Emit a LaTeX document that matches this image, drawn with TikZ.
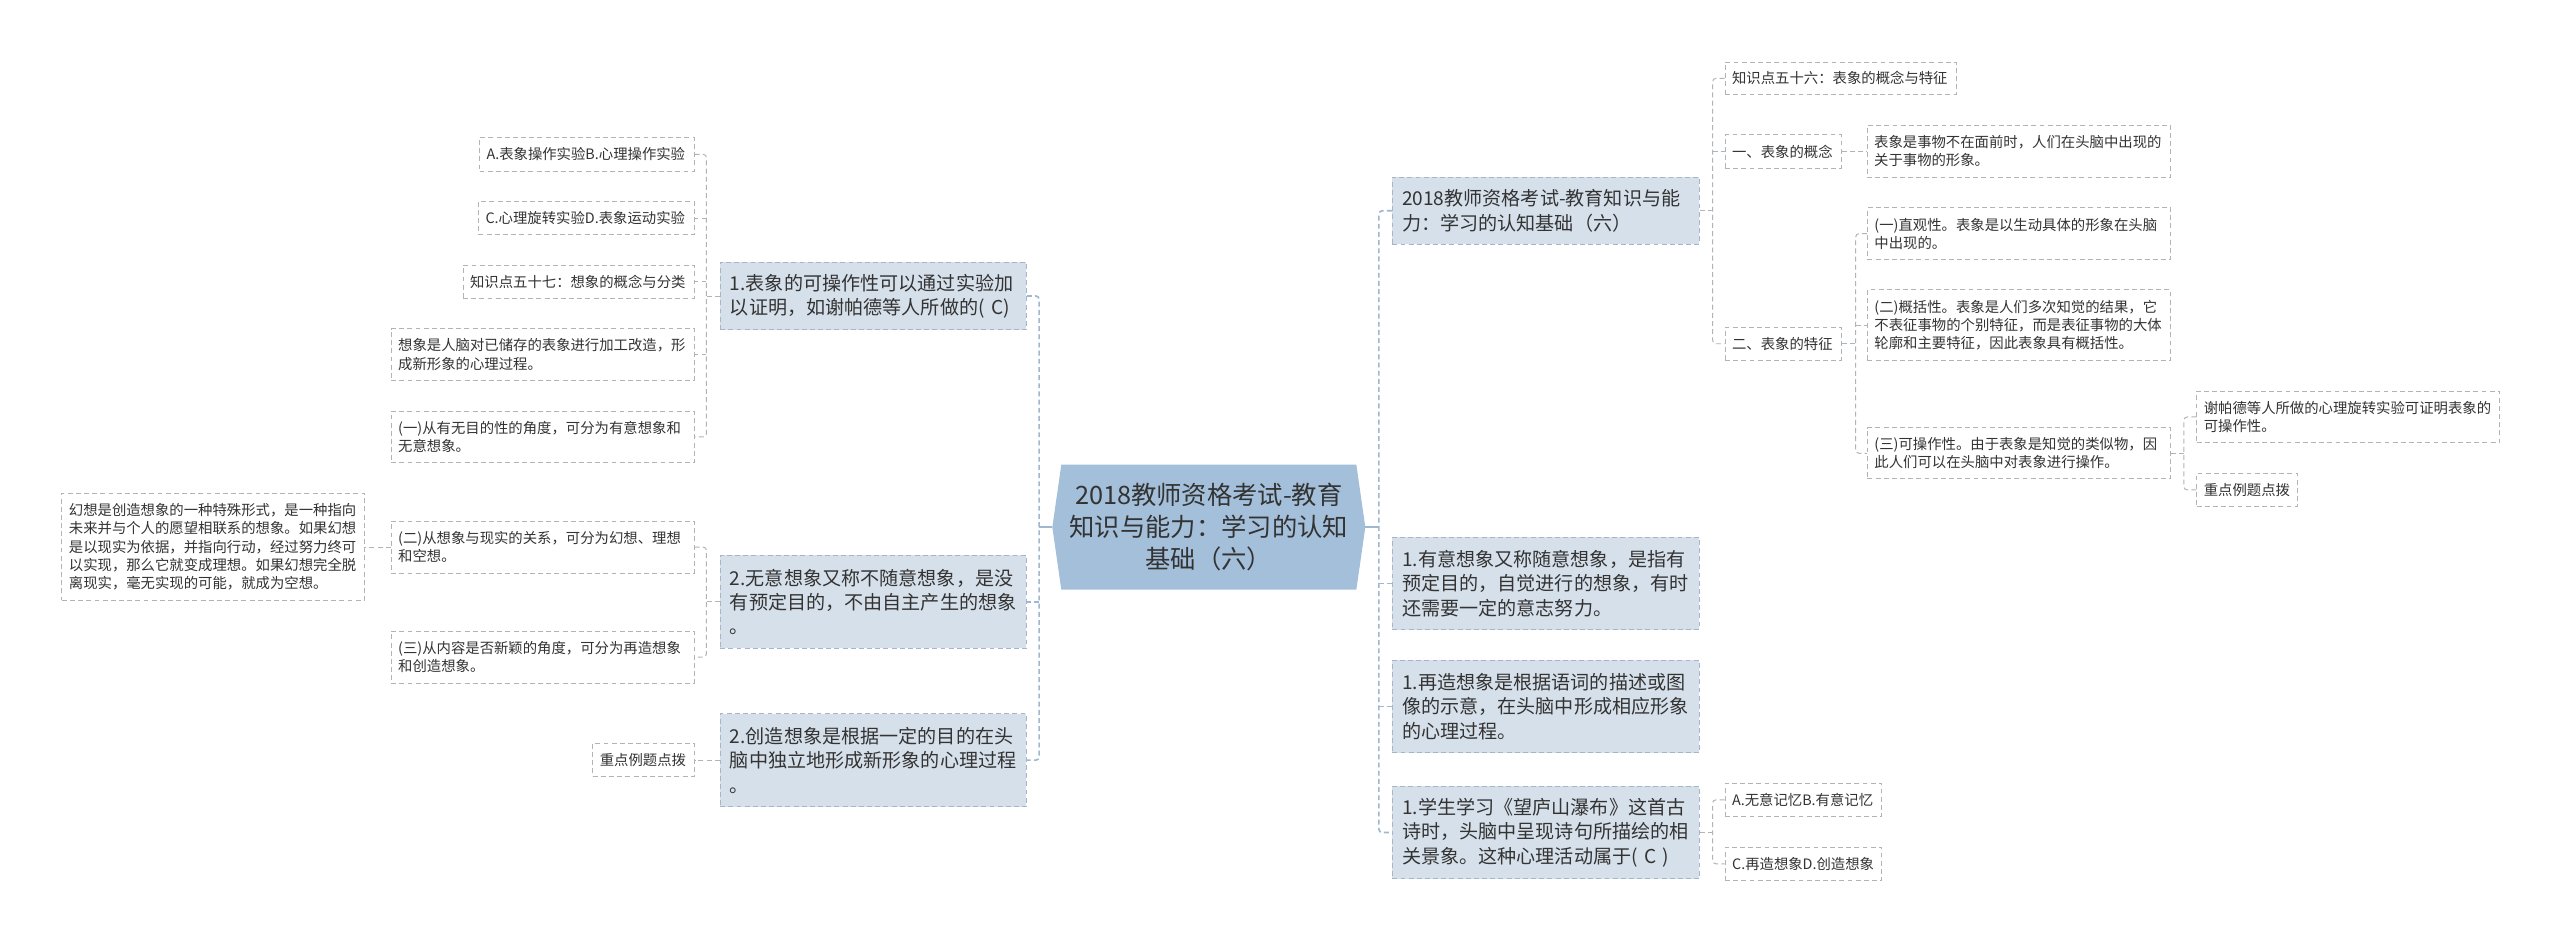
\documentclass[tikz,border=0pt]{standalone}
\usepackage{fontspec}
\setmainfont{Noto Sans CJK SC}
\usetikzlibrary{backgrounds,calc}
\definecolor{cfill}{HTML}{A3BFDA}
\definecolor{lvlf}{HTML}{D6E0EA}
\definecolor{lvlb}{HTML}{A6B6C6}
\definecolor{leafb}{HTML}{AEB4BA}
\definecolor{mainc}{HTML}{9FB8D0}
\definecolor{treecol}{HTML}{B0B4B8}
\definecolor{txt}{HTML}{333333}
\begin{document}
\begin{tikzpicture}[x=1pt,y=-1pt,
  box/.style={rectangle, anchor=north west, inner ysep=0pt, align=left, text=txt},
  leaf/.style={box, inner xsep=4.3pt, draw=leafb, fill=white, dash pattern=on 3pt off 2pt, line width=0.6pt, font=\fontsize{8.8}{11.2}\selectfont},
  lvl/.style={box, inner xsep=6pt, draw=lvlb, fill=lvlf, dash pattern=on 3pt off 2pt, line width=0.6pt, font=\fontsize{11.7}{14.9}\selectfont},
  hub/.style={rectangle, inner sep=0pt, align=center, text=txt, font=\fontsize{15.5}{19.6}\selectfont},
  maind/.style={draw=mainc, line width=1pt, dash pattern=on 3pt off 2pt, rounded corners=2pt},
  mains/.style={draw=mainc, line width=1.2pt},
  treec/.style={draw=treecol, line width=0.6pt, dash pattern=on 3pt off 2pt, rounded corners=2pt}
]
\useasboundingbox (0,0) rectangle (1568,577);

% centre
\node[hub, minimum width=191.3pt, minimum height=76.2pt] (C) at (740.4,322.9)
  {2018教师资格考试-教育\\知识与能力：学习的认知\\基础（六）};
\begin{pgfonlayer}{background}
\fill[white] (0,0) rectangle (1568,577);
\fill[cfill] (C.west) -- ($(C.north west)+(5.5,0)$) -- ($(C.north east)+(-5.5,0)$) -- (C.east)
  -- ($(C.south east)+(-5.5,0)$) -- ($(C.south west)+(5.5,0)$) -- cycle;
\end{pgfonlayer}

% left level-1
\node[lvl, text width=175.6pt, minimum height=41.4pt] (L1) at (440.8,160.3)
  {1.表象的可操作性可以通过实验加\\以证明，如谢帕德等人所做的(~C)};
\node[lvl, text width=175.6pt, minimum height=56.9pt] (L2) at (440.8,339.9)
  {2.无意想象又称不随意想象，是没\\有预定目的，不由自主产生的想象\\。};
\node[lvl, text width=175.6pt, minimum height=56.8pt] (L3) at (440.8,436.9)
  {2.创造想象是根据一定的目的在头\\脑中独立地形成新形象的心理过程\\。};

% right level-1
\node[lvl, text width=176pt, minimum height=41.2pt] (R1) at (852.5,108.2)
  {2018教师资格考试-教育知识与能\\力：学习的认知基础（六）};
\node[lvl, text width=176pt, minimum height=56.7pt] (R2) at (852.5,328.7)
  {1.有意想象又称随意想象，是指有\\预定目的，自觉进行的想象，有时\\还需要一定的意志努力。};
\node[lvl, text width=176pt, minimum height=56.6pt] (R3) at (852.5,404.2)
  {1.再造想象是根据语词的描述或图\\像的示意，在头脑中形成相应形象\\的心理过程。};
\node[lvl, text width=176pt, minimum height=56.8pt] (R4) at (852.5,481.2)
  {1.学生学习《望庐山瀑布》这首古\\诗时，头脑中呈现诗句所描绘的相\\关景象。这种心理活动属于(~C~)};

% left leaves
\node[leaf, text width=122.9pt, minimum height=20.5pt] (a1) at (293.4,84) {A.表象操作实验B.心理操作实验};
\node[leaf, text width=123.5pt, minimum height=20.5pt] (a2) at (292.8,123) {C.心理旋转实验D.表象运动实验};
\node[leaf, text width=133pt, minimum height=20pt] (a3) at (283.3,162.3) {知识点五十七：想象的概念与分类};
\node[leaf, text width=177pt, minimum height=31.7pt] (a4) at (239.3,201)
  {想象是人脑对已储存的表象进行加工改造，形\\成新形象的心理过程。};
\node[leaf, text width=177pt, minimum height=31.7pt] (a5) at (239.3,251.5)
  {(一)从有无目的性的角度，可分为有意想象和\\无意想象。};
\node[leaf, text width=177pt, minimum height=31.8pt] (b1) at (239.3,318.9)
  {(二)从想象与现实的关系，可分为幻想、理想\\和空想。};
\node[leaf, text width=177pt, minimum height=31.8pt] (b2) at (239.3,386.3)
  {(三)从内容是否新颖的角度，可分为再造想象\\和创造想象。};
\node[leaf, text width=176.8pt, minimum height=65.8pt] (b1a) at (37.6,301.7)
  {幻想是创造想象的一种特殊形式，是一种指向\\未来并与个人的愿望相联系的想象。如果幻想\\是以现实为依据，并指向行动，经过努力终可\\以实现，那么它就变成理想。如果幻想完全脱\\离现实，毫无实现的可能，就成为空想。};
\node[leaf, text width=53.5pt, minimum height=20.4pt] (c1) at (362.8,454.9) {重点例题点拨};

% right leaves
\node[leaf, text width=133.1pt, minimum height=19.8pt] (r1a) at (1056.3,37.8) {知识点五十六：表象的概念与特征};
\node[leaf, text width=62.5pt, minimum height=20.4pt] (r1b) at (1056.3,82.3) {一、表象的概念};
\node[leaf, text width=177.4pt, minimum height=31.6pt] (r1b1) at (1143.3,76.6)
  {表象是事物不在面前时，人们在头脑中出现的\\关于事物的形象。};
\node[leaf, text width=62.5pt, minimum height=20.5pt] (r1c) at (1056.3,200) {二、表象的特征};
\node[leaf, text width=177.2pt, minimum height=31.7pt] (r1c1) at (1143.5,127)
  {(一)直观性。表象是以生动具体的形象在头脑\\中出现的。};
\node[leaf, text width=177.2pt, minimum height=43.3pt] (r1c2) at (1143.5,177.2)
  {(二)概括性。表象是人们多次知觉的结果，它\\不表征事物的个别特征，而是表征事物的大体\\轮廓和主要特征，因此表象具有概括性。};
\node[leaf, text width=177.2pt, minimum height=31.3pt] (r1c3) at (1143.5,261.7)
  {(三)可操作性。由于表象是知觉的类似物，因\\此人们可以在头脑中对表象进行操作。};
\node[leaf, text width=176.8pt, minimum height=31.6pt] (r1c3a) at (1345.2,239.3)
  {谢帕德等人所做的心理旋转实验可证明表象的\\可操作性。};
\node[leaf, text width=52.9pt, minimum height=20.5pt] (r1c3b) at (1345.2,289.5) {重点例题点拨};
\node[leaf, text width=87.3pt, minimum height=20.4pt] (r4a) at (1056.3,479.4) {A.无意记忆B.有意记忆};
\node[leaf, text width=87.3pt, minimum height=20.4pt] (r4b) at (1056.3,518.6) {C.再造想象D.创造想象};

% main connectors
\draw[mains] (C.west) -- ++(-8.1,0) coordinate (sC0);
\draw[maind] (L1.east) -| (sC0) |- (L3.east);
\draw[maind] (sC0 |- L2.east) -- (L2.east);
\draw[mains] (C.east) -- ++(8.3,0) coordinate (sC1);
\draw[maind] (R1.west) -| (sC1) |- (R4.west);
\draw[maind] (sC1 |- R2.west) -- (R2.west);
\draw[maind] (sC1 |- R3.west) -- (R3.west);

% left subtrees
\draw[treec] (L1.west) -- ++(-8.1,0) coordinate (sL1);
\draw[treec] (a1.east) -| (sL1) |- (a5.east);
\draw[treec] (sL1 |- a2.east) -- (a2.east);
\draw[treec] (sL1 |- a3.east) -- (a3.east);
\draw[treec] (sL1 |- a4.east) -- (a4.east);
\draw[treec] (L2.west) -- ++(-8.1,0) coordinate (sL2);
\draw[treec] (b1.east) -| (sL2) |- (b2.east);
\draw[treec] (b1.west) -- (b1.west -| b1a.east);
\draw[treec] (L3.west) -- (L3.west -| c1.east);

% right subtrees
\draw[treec] (R1.east) -- ++(7.9,0) coordinate (sR1);
\draw[treec] (r1a.west) -| (sR1) |- (r1c.west);
\draw[treec] (sR1 |- r1b.west) -- (r1b.west);
\draw[treec] (r1b.east) -- (r1b.east -| r1b1.west);
\draw[treec] (r1c.east) -- ++(8.6,0) coordinate (sRc);
\draw[treec] (r1c1.west) -| (sRc) |- (r1c3.west);
\draw[treec] (sRc |- r1c2.west) -- (r1c2.west);
\draw[treec] (r1c3.east) -- ++(7.7,0) coordinate (sRc3);
\draw[treec] (r1c3a.west) -| (sRc3) |- (r1c3b.west);
\draw[treec] (R4.east) -- ++(7.9,0) coordinate (sR4);
\draw[treec] (r4a.west) -| (sR4) |- (r4b.west);
\end{tikzpicture}
\end{document}
